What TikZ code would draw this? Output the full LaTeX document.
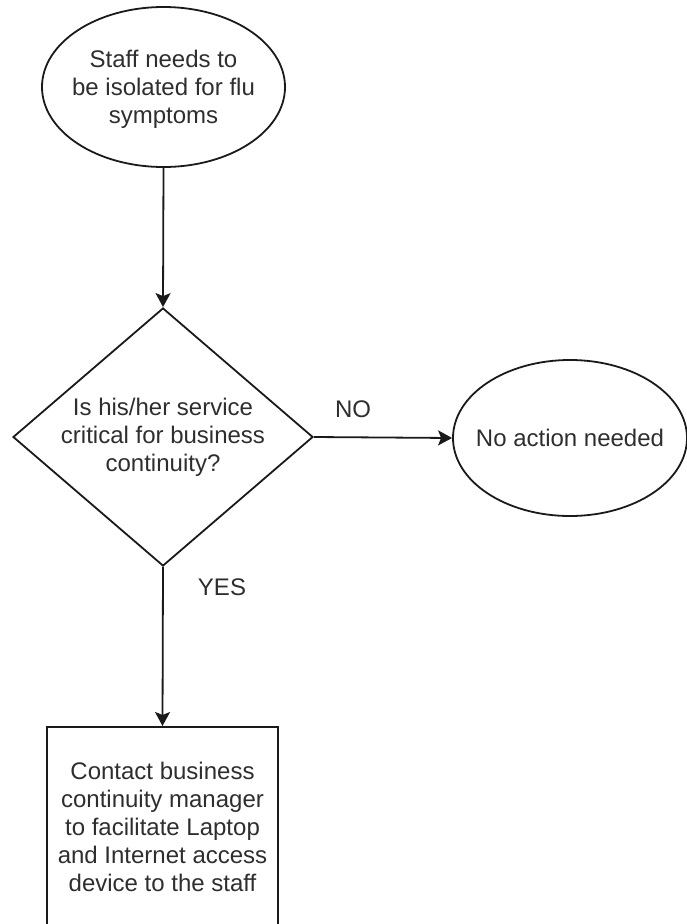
\documentclass[tikz,border=0pt]{standalone}
\usepackage{fontspec}
\setmainfont{Liberation Sans}
\usetikzlibrary{shapes.geometric,arrows.meta}
\definecolor{ink}{HTML}{1A1A1A}
\definecolor{txt}{HTML}{2E2E2E}
\begin{document}
\begin{tikzpicture}[x=1pt,y=-1pt,
  every node/.style={font=\fontsize{24}{28}\selectfont, text=txt},
  shp/.style={draw=ink, line width=1.8pt, inner sep=0pt},
  oval/.style={shp, ellipse},
  decision/.style={shp, diamond},
  stepbox/.style={shp, rectangle},
  flow/.style={draw=ink, line width=1.8pt, -{Stealth[length=14pt,width=15pt,inset=3pt]}},
  lbl/.style={inner sep=0pt, align=center}]
  \useasboundingbox (0,0) rectangle (687,924);

  % start event
  \node[oval, minimum width=243pt, minimum height=160pt] (start) at (163.5,87) {};
  \node[lbl] (starttext) at (163.5,89)
    {Staff needs to\\be isolated for flu\\symptoms};

  % decision
  \node[decision, minimum width=300pt, minimum height=258pt] (dec) at (163,437) {};
  \node[lbl] (dectext) at (163,437)
    {Is his/her service\\critical for business\\continuity?};

  % negative outcome
  \node[oval, minimum width=234pt, minimum height=156pt] (noact) at (570,438) {};
  \node[lbl] (noacttext) at (570,438) {No action needed};

  % positive outcome
  \node[stepbox, minimum width=231pt, minimum height=204pt, anchor=north] (contact) at (162.5,726) {};
  \node[lbl] (contacttext) at (162.5,827)
    {Contact business\\continuity manager\\to facilitate Laptop\\and Internet access\\device to the staff};

  % connectors
  \draw[flow] (start.south) -- (dec.north);
  \draw[flow] (dec.east) -- (noact.west);
  \draw[flow] (dec.south) -- (contact.north);

  % branch labels
  \node[lbl] (nolbl) at (353,409) {NO};
  \node[lbl] (yeslbl) at (222,587) {YES};
\end{tikzpicture}
\end{document}
